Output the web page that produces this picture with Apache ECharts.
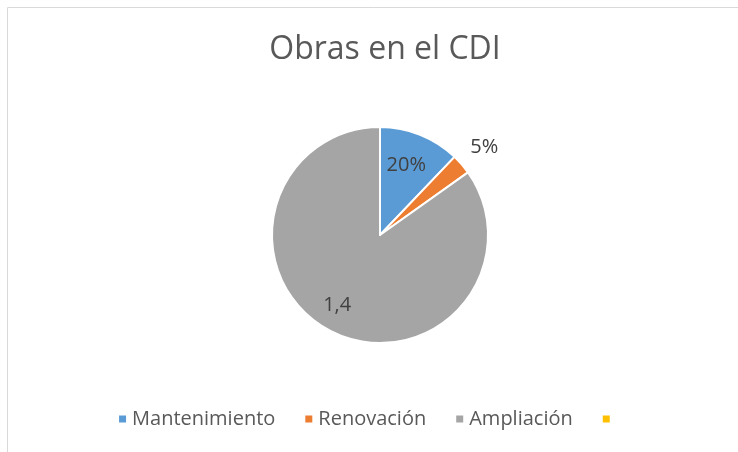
<!DOCTYPE html>
<html>
<head>
<meta charset="utf-8">
<script src="https://cdn.jsdelivr.net/npm/echarts@6/dist/echarts.min.js"></script>
<style>
  html, body { margin: 0; padding: 0; background: #fff; }
  #chart { width: 738px; height: 452px; }
</style>
</head>
<body>
<div id="chart"></div>
<script>
// datos del grafico
var categorias = ['Mantenimiento', 'Renovación', 'Ampliación', ' '];
var valores = [0.2, 0.05, 1.4, 0];
var etiquetas = ['20%', '5%', '1,4', ''];
var colores = ['#5B9BD5', '#ED7D31', '#A5A5A5', '#FFC000'];

var fuente = '"Open Sans", sans-serif';

var datos = categorias.map(function (nombre, i) {
    return {
        name: nombre,
        value: valores[i],
        itemStyle: { color: colores[i] },
        label: { show: i === 1, offset: [-7, -8] }
    };
});

// serie fantasma solo para colocar las etiquetas interiores
var datosEtiquetas = categorias.map(function (nombre, i) {
    return {
        name: nombre,
        value: valores[i],
        label: { show: i === 0 || i === 2, offset: i === 2 ? [-8, 3] : [-2, 1] }
    };
});

var dom = document.getElementById('chart');
var myChart = echarts.init(dom, null, { renderer: 'canvas' });

var option = {
    animation: false,
    graphic: [{
        type: 'rect',
        shape: { x: 7.5, y: 7.5, width: 800, height: 500 },
        style: { fill: 'none', stroke: '#d9d9d9', lineWidth: 1 },
        silent: true
    }],
    title: {
        text: 'Obras en el CDI',
        left: 380,
        textAlign: 'center',
        top: 29,
        textStyle: { fontFamily: fuente, fontSize: 32, fontWeight: 'normal', color: '#595959' }
    },
    legend: {
        data: categorias,
        left: 'center',
        top: 404,
        icon: 'rect',
        itemWidth: 9,
        itemHeight: 9,
        itemGap: 28,
        textStyle: { fontFamily: fuente, fontSize: 20, color: '#595959' }
    },
    series: [
        {
            name: 'Obras',
            type: 'pie',
            center: [380, 235],
            radius: 108,
            startAngle: 90,
            clockwise: true,
            itemStyle: { borderColor: '#fff', borderWidth: 2 },
            label: {
                position: 'outside',
                fontFamily: fuente,
                fontSize: 20,
                color: '#404040',
                formatter: function (p) { return etiquetas[p.dataIndex]; }
            },
            labelLine: { show: false, length: 14, length2: 0 },
            emphasis: { disabled: true },
            data: datos
        },
        {
            name: 'Etiquetas',
            type: 'pie',
            center: [380, 235],
            radius: 146,
            startAngle: 90,
            clockwise: true,
            silent: true,
            itemStyle: { color: 'rgba(0,0,0,0)' },
            label: {
                position: 'inside',
                fontFamily: fuente,
                fontSize: 20,
                color: '#404040',
                formatter: function (p) { return etiquetas[p.dataIndex]; }
            },
            labelLine: { show: false },
            emphasis: { disabled: true },
            z: 3,
            data: datosEtiquetas
        }
    ]
};

myChart.setOption(option);
window.addEventListener('resize', myChart.resize);
</script>
</body>
</html>
